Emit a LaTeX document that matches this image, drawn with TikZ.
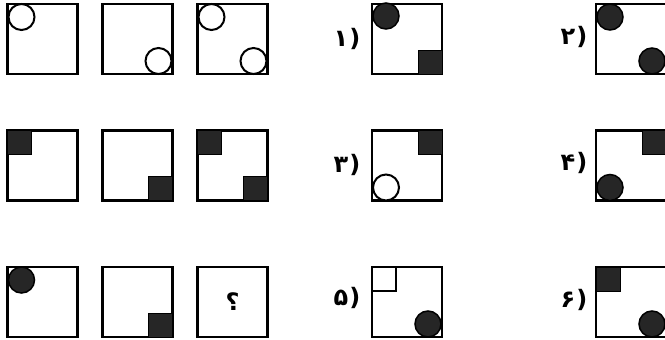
\documentclass[tikz,border=0pt]{standalone}
\usepackage{fontspec}
\newfontfamily\arabicfont[Script=Arabic]{DejaVu Sans}
\newfontfamily\latfont{DejaVu Sans}
\usetikzlibrary{calc}
\newcommand\optlab[1]{{\arabicfont #1}\kern1pt{\latfont)}}
\begin{document}
\begin{tikzpicture}[x=1pt,y=-1pt,
 cell/.style={draw, line width=2.4pt, minimum size=70pt, inner sep=0pt, outer sep=0pt},
 wdot/.style={draw, fill=white, line width=2pt},
 bdot/.style={draw, fill=black!85, line width=1.5pt},
 bsq/.style={draw, fill=black!85, line width=1pt},
 wsq/.style={draw, line width=2pt},
 lab/.style={font=\fontsize{24}{28}\selectfont\bfseries, inner sep=0pt},
 qlab/.style={font=\arabicfont\fontsize{24}{28}\selectfont\bfseries, inner sep=0pt}]
\useasboundingbox (0,0) rectangle (665,340);
\clip (0,0) rectangle (665,340);
% question grid
\node[cell] (a1) at (42.5,39) {};
\node[cell] (a2) at (137.5,39) {};
\node[cell] (a3) at (232.5,39) {};
\node[cell] (b1) at (42.5,165.5) {};
\node[cell] (b2) at (137.5,165.5) {};
\node[cell] (b3) at (232.5,165.5) {};
\node[cell] (c1) at (42.5,302) {};
\node[cell] (c2) at (137.5,302) {};
\node[cell] (c3) at (232.5,302) {};
\node[qlab] (q) at (232.5,302) {؟};
% answers
\node[cell] (o1) at (407,39) {};
\node[cell] (o2) at (631,39) {};
\node[cell] (o3) at (407,165.5) {};
\node[cell] (o4) at (631,165.5) {};
\node[cell] (o5) at (407,302) {};
\node[cell] (o6) at (631,302) {};
\node[lab] (l1) at (347,39) {\optlab{۱}};
\node[lab] (l2) at (574,37) {\optlab{۲}};
\node[lab] (l3) at (347,165) {\optlab{۳}};
\node[lab] (l4) at (574,163) {\optlab{۴}};
\node[lab] (l5) at (347,298) {\optlab{۵}};
\node[lab] (l6) at (574,300) {\optlab{۶}};
% row 1 contents
\draw[wdot] ($(a1.north west)+(14,13)$) circle[radius=13pt];
\draw[wdot] ($(a2.south east)+(-14,-13)$) circle[radius=13pt];
\draw[wdot] ($(a3.north west)+(14,13)$) circle[radius=13pt];
\draw[wdot] ($(a3.south east)+(-14,-13)$) circle[radius=13pt];
% row 2 contents
\draw[bsq] (b1.north west) rectangle ++(24,24);
\draw[bsq] (b2.south east) rectangle ++(-24,-24);
\draw[bsq] (b3.north west) rectangle ++(24,24);
\draw[bsq] (b3.south east) rectangle ++(-24,-24);
% row 3 contents
\draw[bdot] ($(c1.north west)+(14,13)$) circle[radius=13pt];
\draw[bsq] (c2.south east) rectangle ++(-24,-24);
% answer contents
\draw[bdot] ($(o1.north west)+(14,12)$) circle[radius=13pt];
\draw[bsq] (o1.south east) rectangle ++(-24,-24);
\draw[bdot] ($(o2.north west)+(14,13)$) circle[radius=13pt];
\draw[bdot] ($(o2.south east)+(-14,-13)$) circle[radius=13pt];
\draw[bsq] (o3.north east) rectangle ++(-24,24);
\draw[wdot] ($(o3.south west)+(14,-13)$) circle[radius=13pt];
\draw[bsq] (o4.north east) rectangle ++(-24,24);
\draw[bdot] ($(o4.south west)+(14,-13)$) circle[radius=13pt];
\draw[wsq] (o5.north west) rectangle ++(24,24);
\draw[bdot] ($(o5.south east)+(-14,-13)$) circle[radius=13pt];
\draw[bsq] (o6.north west) rectangle ++(24,24);
\draw[bdot] ($(o6.south east)+(-14,-13)$) circle[radius=13pt];
\end{tikzpicture}
\end{document}
